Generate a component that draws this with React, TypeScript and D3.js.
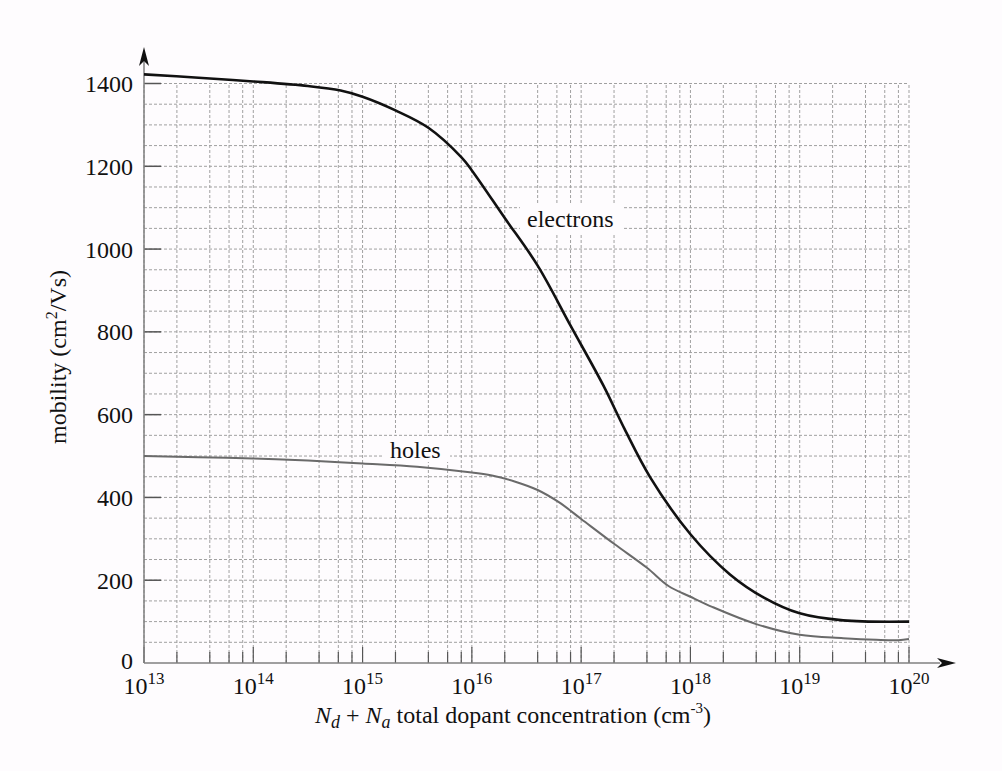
import React from 'react';
import * as d3 from 'd3';

// values (concentration in cm^-3, mobility in cm^2/Vs)
const electronConc = [1e13, 3.16e13, 1e14, 3.16e14, 6.3e14, 1e15, 2e15, 4e15, 8e15, 1e16, 2e16, 4e16, 8e16, 1.6e17, 2.5e17, 4.3e17, 1e18, 2.3e18, 4.7e18, 1e19, 2.5e19, 1e20];
const electronMobility = [1422, 1414, 1405, 1394, 1383, 1368, 1335, 1293, 1222, 1190, 1075, 960, 815, 670, 565, 448, 311, 214, 158, 120, 103, 100];

const holeConc = [1e13, 3.16e13, 1e14, 3.16e14, 1e15, 3.16e15, 1e16, 1.6e16, 2.5e16, 4e16, 6.3e16, 1e17, 2e17, 4e17, 6.3e17, 1e18, 1.6e18, 4e18, 1e19, 2.5e19, 5e19, 8e19, 1e20];
const holeMobility = [500, 497, 494, 489, 482, 474, 460, 452, 438, 418, 388, 348, 288, 230, 186, 160, 135, 94, 68, 60, 56, 55, 58];

const decadeExponents = [13, 14, 15, 16, 17, 18, 19, 20];
const minorMultipliers = [2, 4, 6, 8];
const yTicks = [0, 200, 400, 600, 800, 1000, 1200, 1400];
const yGridStep = 50;

const W = 1002;
const H = 771;
const bg = '#fefcfe';
const font = '"Liberation Serif", "Times New Roman", serif';

export default function App() {
  const x = d3.scaleLog().domain([1e13, 1e20]).range([144, 909]);
  const y = d3.scaleLinear().domain([0, 1400]).range([663, 83.5]);

  const line = d3.line<[number, number]>()
    .x(d => x(d[0]))
    .y(d => y(d[1]))
    .curve(d3.curveCatmullRom.alpha(0.5));

  const electrons = electronConc.map((c, i) => [c, electronMobility[i]] as [number, number]);
  const holes = holeConc.map((c, i) => [c, holeMobility[i]] as [number, number]);

  const gridY = d3.range(yGridStep, 1400 + 1, yGridStep);
  const gridX: number[] = [];
  decadeExponents.forEach((e, i) => {
    gridX.push(Math.pow(10, e));
    if (i < decadeExponents.length - 1) minorMultipliers.forEach(m => gridX.push(m * Math.pow(10, e)));
  });

  const x0 = x(1e13);
  const y0 = y(0);
  const yTop = y(1400);

  return (
    <svg width={W} height={H} style={{ position: 'absolute', left: 0, top: 0, background: bg }} fontFamily={font}>
      {/* grid */}
      <g stroke="#a0a0a0" strokeWidth={1} strokeDasharray="3,2" fill="none">
        {gridY.map(v => <line key={'gy' + v} x1={x0} x2={x(1e20)} y1={y(v)} y2={y(v)} />)}
        {gridX.map(v => <line key={'gx' + v} x1={x(v)} x2={x(v)} y1={y0} y2={yTop} />)}
      </g>

      {/* label backgrounds */}
      <rect x={520} y={204} width={104} height={30} fill={bg} />
      <rect x={382} y={436} width={68} height={26} fill={bg} />

      {/* y tick stubs */}
      <g stroke="#555" strokeWidth={1.5}>
        {yTicks.filter(v => v > 0).map(v => <line key={'yt' + v} x1={x0} x2={x0 + 17} y1={y(v)} y2={y(v)} />)}
      </g>
      {/* x ticks */}
      <g stroke="#555" strokeWidth={1.2}>
        {gridX.map(v => {
          const major = Math.abs(Math.log10(v) - Math.round(Math.log10(v))) < 1e-9;
          return <line key={'xt' + v} x1={x(v)} x2={x(v)} y1={y0} y2={y0 - (major ? 16 : 11)} />;
        })}
      </g>

      {/* axes */}
      <g stroke="#808080" strokeWidth={1.5}>
        <line x1={x0} x2={x0} y1={y0} y2={60} />
        <line x1={x0} x2={940} y1={y0} y2={y0} />
      </g>
      <path d={`M${x0},47 L${x0 - 5},66 L${x0},61 L${x0 + 5},66 Z`} fill="#111" />
      <path d={`M956,${y0} L937,${y0 - 5} L942,${y0} L937,${y0 + 5} Z`} fill="#111" />

      {/* curves */}
      <path d={line(holes) || ''} fill="none" stroke="#6a6a6a" strokeWidth={2} />
      <path d={line(electrons) || ''} fill="none" stroke="#111" strokeWidth={2.6} />

      {/* curve labels */}
      <text x={527} y={227} fontSize={24} fill="#111">electrons</text>
      <text x={390} y={458} fontSize={24} fill="#111">holes</text>

      {/* y tick labels */}
      {yTicks.map(v => (
        <text key={'yl' + v} x={133} y={v === 0 ? 669 : y(v) + 8.5} fontSize={24} textAnchor="end" fill="#111">{v}</text>
      ))}

      {/* x tick labels */}
      {decadeExponents.map(e => (
        <text key={'xl' + e} x={x(Math.pow(10, e))} y={694} fontSize={24} textAnchor="middle" fill="#111">
          10<tspan fontSize={17} dy={-10}>{e}</tspan>
        </text>
      ))}

      {/* axis titles */}
      <text transform="translate(66,357) rotate(-90)" fontSize={24} textAnchor="middle" fill="#111">
        mobility (cm<tspan fontSize={16} dy={-9}>2</tspan><tspan dy={9}>/Vs)</tspan>
      </text>
      <text x={315} y={723} fontSize={24} fill="#111">
        <tspan fontStyle="italic">N</tspan>
        <tspan fontStyle="italic" fontSize={18} dy={5}>d</tspan>
        <tspan dy={-5}> + </tspan>
        <tspan fontStyle="italic">N</tspan>
        <tspan fontStyle="italic" fontSize={18} dy={5}>a</tspan>
        <tspan dy={-5}> total dopant concentration (cm</tspan>
        <tspan fontSize={15} dy={-10}>-3</tspan>
        <tspan dy={10}>)</tspan>
      </text>
    </svg>
  );
}
